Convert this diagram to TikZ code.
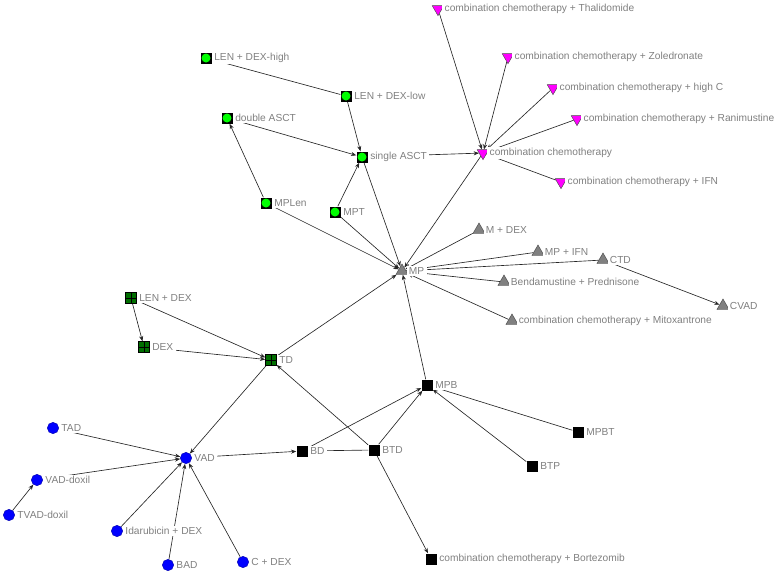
\documentclass[tikz,border=0pt]{standalone}
\usepackage{fontspec}
\setmainfont{Liberation Sans}
\usetikzlibrary{shapes.geometric,arrows.meta,backgrounds}
\definecolor{chemopink}{RGB}{255,0,255}
\definecolor{asctgreen}{RGB}{0,255,0}
\definecolor{tdgreen}{RGB}{0,110,0}
\definecolor{vadblue}{RGB}{0,0,255}
\definecolor{labelgray}{RGB}{128,128,128}
\tikzset{
  >={Stealth[length=4.5pt,width=3.5pt]},
  every label/.style={text=labelgray,fill=white,inner ysep=1pt,inner xsep=2pt,font=\fontsize{8.7}{10}\selectfont},
  label distance=0pt,
  link/.style={->,draw=black!85,line width=0.55pt},
  cchemo/.style={regular polygon,regular polygon sides=3,shape border rotate=180,
    draw=black!70,fill=chemopink,inner sep=0pt,minimum size=0.4cm},
  mptri/.style={regular polygon,regular polygon sides=3,
    draw=black!70,fill=labelgray,inner sep=0pt,minimum size=0.42cm},
  asct/.style={rectangle,fill=black,inner sep=0pt,minimum size=0.33cm,
    path picture={\fill[asctgreen] (path picture bounding box.center) circle (0.135cm);}},
  tdgrid/.style={rectangle,draw=black,line width=0.4pt,fill=tdgreen,inner sep=0pt,minimum size=0.33cm,
    path picture={\draw[black,line width=0.4pt] (path picture bounding box.north) -- (path picture bounding box.south)
      (path picture bounding box.west) -- (path picture bounding box.east);}},
  bort/.style={rectangle,fill=black,inner sep=0pt,minimum size=0.33cm},
  vadc/.style={circle,draw=vadblue!70!black,fill=vadblue,inner sep=0pt,minimum size=0.34cm}
}
\begin{document}
\begin{tikzpicture}[x=0.03cm,y=-0.03cm]
  \useasboundingbox (0,0) rectangle (780,575);
  \node[cchemo,label=right:{combination chemotherapy + Thalidomide}] (ccthal) at (438,9) {};
  \node[cchemo,label=right:{combination chemotherapy + Zoledronate}] (cczol) at (508,57) {};
  \node[cchemo,label=right:{combination chemotherapy + high C}] (cchighc) at (553,88) {};
  \node[cchemo,label=right:{combination chemotherapy + Ranimustine}] (ccrani) at (577,119) {};
  \node[cchemo,label=right:{combination chemotherapy}] (cc) at (483,153) {};
  \node[cchemo,label=right:{combination chemotherapy + IFN}] (ccifn) at (561,182) {};
  \node[asct,label=right:{LEN + DEX-high}] (ldhigh) at (206,58) {};
  \node[asct,label=right:{LEN + DEX-low}] (ldlow) at (346,96) {};
  \node[asct,label=right:{double ASCT}] (dasct) at (227,118) {};
  \node[asct,label=right:{single ASCT}] (sasct) at (362,157) {};
  \node[asct,label=right:{MPLen}] (mplen) at (266,203) {};
  \node[asct,label=right:{MPT}] (mpt) at (335,212) {};
  \node[mptri,label=right:{MP}] (mp) at (402,271) {};
  \node[mptri,label=right:{M + DEX}] (mdex) at (479,230) {};
  \node[mptri,label=right:{MP + IFN}] (mpifn) at (538,252) {};
  \node[mptri,label=right:{CTD}] (ctd) at (603,260) {};
  \node[mptri,label=right:{Bendamustine + Prednisone}] (bendp) at (504,282) {};
  \node[mptri,label=right:{CVAD}] (cvad) at (723,306) {};
  \node[mptri,label=right:{combination chemotherapy + Mitoxantrone}] (ccmito) at (512,321) {};
  \node[tdgrid,label=right:{LEN + DEX}] (lendex) at (131,298) {};
  \node[tdgrid,label=right:{DEX}] (dex) at (144,347) {};
  \node[tdgrid,label=right:{TD}] (td) at (271,360) {};
  \node[bort,label=right:{MPB}] (mpb) at (427,385) {};
  \node[bort,label=right:{MPBT}] (mpbt) at (578,432) {};
  \node[bort,label=right:{BTP}] (btp) at (532,466) {};
  \node[bort,label=right:{BD}] (bd) at (302,451) {};
  \node[bort,label=right:{BTD}] (btd) at (374,450) {};
  \node[bort,label=right:{combination chemotherapy + Bortezomib}] (ccbort) at (431,559) {};
  \node[vadc,label=right:{TAD}] (tad) at (53,428) {};
  \node[vadc,label=right:{VAD}] (vad) at (186,458) {};
  \node[vadc,label=right:{VAD-doxil}] (vaddox) at (37,480) {};
  \node[vadc,label=right:{TVAD-doxil}] (tvaddox) at (9,515) {};
  \node[vadc,label=right:{Idarubicin + DEX}] (idadex) at (117,531) {};
  \node[vadc,label=right:{BAD}] (bad) at (168,565) {};
  \node[vadc,label=right:{C + DEX}] (cdex) at (243,562) {};
  \begin{scope}[on background layer]
    \draw [link] (ldlow) -- (ldhigh);
    \draw [link] (ldlow) -- (sasct);
    \draw [link] (dasct) -- (sasct);
    \draw [link] (mplen) -- (dasct);
    \draw [link] (mpt) -- (sasct);
    \draw [link] (sasct) -- (cc);
    \draw [link] (sasct) -- (mp);
    \draw [link] (mplen) -- (mp);
    \draw [link] (mpt) -- (mp);
    \draw [link] (ccthal) -- (cc);
    \draw [link] (cczol) -- (cc);
    \draw [link] (cchighc) -- (cc);
    \draw [link] (ccrani) -- (cc);
    \draw [link] (ccifn) -- (cc);
    \draw [link] (cc) -- (mp);
    \draw [link] (mdex) -- (mp);
    \draw [link] (mpifn) -- (mp);
    \draw [link] (ctd) -- (mp);
    \draw [link] (bendp) -- (mp);
    \draw [link] (ccmito) -- (mp);
    \draw [link] (ctd) -- (cvad);
    \draw [link] (mpb) -- (mp);
    \draw [link] (td) -- (mp);
    \draw [link] (lendex) -- (dex);
    \draw [link] (lendex) -- (td);
    \draw [link] (dex) -- (td);
    \draw [link] (td) -- (vad);
    \draw [link] (btd) -- (td);
    \draw [link] (vad) -- (bd);
    \draw [link] (btd) -- (bd);
    \draw [link] (bd) -- (mpb);
    \draw [link] (btd) -- (mpb);
    \draw [link] (btd) -- (ccbort);
    \draw [link] (mpbt) -- (mpb);
    \draw [link] (btp) -- (mpb);
    \draw [link] (tad) -- (vad);
    \draw [link] (vaddox) -- (vad);
    \draw [link] (idadex) -- (vad);
    \draw [link] (bad) -- (vad);
    \draw [link] (cdex) -- (vad);
    \draw [link] (tvaddox) -- (vaddox);
  \end{scope}
\end{tikzpicture}
\end{document}
